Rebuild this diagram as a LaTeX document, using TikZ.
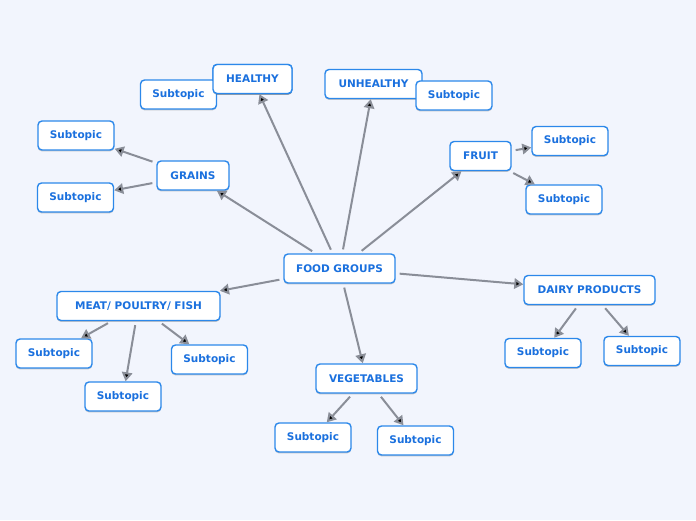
\documentclass[tikz,border=0pt]{standalone}
\usepackage{fontspec}
\setmainfont{DejaVu Sans}
\newfontfamily\topicfont{DejaVu Sans Bold}
\usetikzlibrary{arrows.meta,shadows}
\definecolor{bgblue}{HTML}{F2F5FD}
\definecolor{topicblue}{HTML}{2C88EA}
\definecolor{textblue}{HTML}{1A70DE}
\definecolor{arrowgray}{HTML}{8A8E98}
\tikzset{
  >={Triangle[length=9pt,width=10.5pt]},
}

\begin{document}
\begin{tikzpicture}[
  x=1pt,y=-1pt,
  topic/.style={draw=topicblue, line width=1.4pt, fill=white, rounded corners=4pt,
    text=textblue, font=\topicfont\fontsize{10.5}{12}\selectfont,
    minimum height=29pt, inner xsep=4pt,
    drop shadow={shadow xshift=0pt, shadow yshift=-1.4pt, opacity=0.35, fill=black!60}},
  sub/.style={topic, minimum width=76pt},
  link/.style={->, draw=arrowgray, line width=2pt, shorten <=4pt, shorten >=0pt}
]
\fill[bgblue] (0,0) rectangle (696,520);
\useasboundingbox (0,0) rectangle (696,520);

% central topic
\node[topic, minimum width=111pt] (food) at (339.5,268.5) {FOOD GROUPS};

% main topics
\node[topic, minimum width=79pt] (healthy) at (252.5,79) {HEALTHY};
\node[topic, minimum width=97pt] (unhealthy) at (373.5,84) {UNHEALTHY};
\node[topic, minimum width=72pt] (grains) at (193,175.5) {GRAINS};
\node[topic, minimum width=61pt] (fruit) at (480.5,156) {FRUIT};
\node[topic, minimum width=131pt] (dairy) at (589.5,290) {DAIRY PRODUCTS};
\node[topic, minimum width=101pt] (veg) at (366.5,378.5) {VEGETABLES};
\node[topic, minimum width=163pt] (meat) at (138.5,306) {MEAT/ POULTRY/ FISH};

% subtopics
\node[sub] (healthyA) at (178.5,94.5) {Subtopic};
\node[sub] (unhealthyA) at (454,95.5) {Subtopic};
\node[sub] (grainsA) at (76,135.5) {Subtopic};
\node[sub] (grainsB) at (75.5,197.5) {Subtopic};
\node[sub] (fruitA) at (570,141) {Subtopic};
\node[sub] (fruitB) at (564,199.5) {Subtopic};
\node[sub] (dairyA) at (543,353) {Subtopic};
\node[sub] (dairyB) at (642,351) {Subtopic};
\node[sub] (vegA) at (313,437.5) {Subtopic};
\node[sub] (vegB) at (415.5,440.5) {Subtopic};
\node[sub] (meatA) at (54,353.5) {Subtopic};
\node[sub] (meatB) at (123,396.5) {Subtopic};
\node[sub] (meatC) at (209.5,359.5) {Subtopic};

% bring the overlapping topic to the front
\node[topic, minimum width=79pt] at (healthy) {HEALTHY};

\path[link]
(food) edge (healthy)
(food) edge (unhealthy)
(food) edge (grains)
(food) edge (fruit)
(food) edge (dairy)
(food) edge (veg)
(food) edge (meat)
(grains) edge (grainsA)
(grains) edge (grainsB)
(fruit) edge (fruitA)
(fruit) edge (fruitB)
(dairy) edge (dairyA)
(dairy) edge (dairyB)
(veg) edge (vegA)
(veg) edge (vegB)
(meat) edge (meatA)
(meat) edge (meatB)
(meat) edge (meatC);
\end{tikzpicture}
\end{document}
